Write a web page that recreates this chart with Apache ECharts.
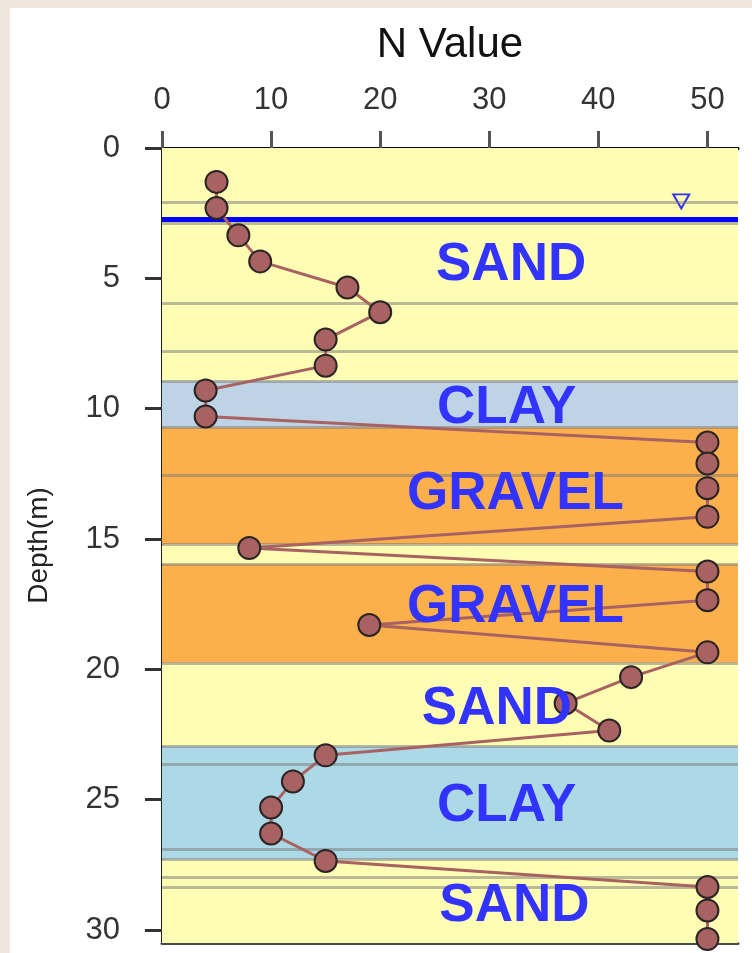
<!DOCTYPE html>
<html>
<head>
<meta charset="utf-8">
<script src="https://cdn.jsdelivr.net/npm/echarts@6/dist/echarts.min.js"></script>
<style>
  html, body { margin: 0; padding: 0; background: #efe7dc; }
  #chart { position: absolute; left: 10px; top: 8px; width: 742px; height: 945px; background: #ffffff; }
</style>
</head>
<body>
<div id="chart"></div>
<script>
// Standard penetration test: N value against depth
const depthM = [1.3, 2.3, 3.35, 4.35, 5.35, 6.3, 7.35, 8.35, 9.3, 10.3,
                11.3, 12.1, 13.05, 14.15, 15.35, 16.25, 17.35, 18.3, 19.35,
                20.3, 21.3, 22.35, 23.3, 24.3, 25.3, 26.3, 27.35, 28.35, 29.25, 30.35];
const nValue = [5, 5, 7, 9, 17, 20, 15, 15, 4, 4,
                50, 50, 50, 50, 8, 50, 50, 19, 50,
                43, 37, 41, 15, 12, 10, 10, 15, 50, 50, 50];

const xTicks = [0, 10, 20, 30, 40, 50];
const yTicks = [0, 5, 10, 15, 20, 25, 30];

// Soil layers (depth in m)
const layerTop    = [0, 8.95, 10.72, 15.2, 15.97, 19.75, 22.96, 27.3];
const layerBottom = [8.95, 10.72, 15.2, 15.97, 19.75, 22.96, 27.3, 30.5];
const layerColor  = ['#fdfdb4', '#bed3e6', '#fbb04c', '#fdfdb4', '#fbb04c', '#fdfdb4', '#add8e6', '#fdfdb4'];

// Sample / sub-layer boundaries
const sampleBreaks = [2.1, 2.88, 5.95, 7.8, 8.95, 10.72, 12.55, 15.2, 15.97,
                      19.75, 22.96, 23.64, 26.9, 27.3, 27.97, 28.36];

// Soil names written inside the layers
const soilNames     = ['SAND', 'CLAY', 'GRAVEL', 'GRAVEL', 'SAND', 'CLAY', 'SAND'];
const soilNameX     = [32.0, 31.6, 32.4, 32.4, 30.7, 31.6, 32.3];
const soilNameDepth = [4.5, 9.98, 13.28, 17.62, 21.52, 25.24, 29.08];

// Groundwater level
const waterLevel = 2.72;
const waterMarkX = 47.6;
const waterMarkDepth = 2.05;

const FONT = 'Liberation Sans, Arial, sans-serif';
const X_MAX = 52.8;
const Y_MAX = 30.5;

const chart = echarts.init(document.getElementById('chart'), null, { renderer: 'canvas' });

chart.setOption({
  animation: false,
  grid: { left: 152, top: 140, right: 14, bottom: 10, containLabel: false },
  xAxis: [
    {
      type: 'value', position: 'top', min: 0, max: X_MAX, interval: 10,
      name: 'N Value', nameLocation: 'middle', nameGap: 103,
      nameTextStyle: { fontSize: 42, color: '#111', fontFamily: FONT, verticalAlign: 'middle' },
      axisLine: { show: true, onZero: false, lineStyle: { color: '#000', width: 3 } },
      axisTick: { show: true, length: 17, customValues: xTicks, lineStyle: { color: '#555', width: 3 } },
      axisLabel: { customValues: xTicks, margin: 32, fontSize: 31, color: '#333', fontFamily: FONT },
      splitLine: { show: false }
    },
    {
      type: 'value', position: 'bottom', min: 0, max: X_MAX,
      axisLine: { show: true, onZero: false, lineStyle: { color: '#4a4a44', width: 3 } },
      axisTick: { show: false }, axisLabel: { show: false }, splitLine: { show: false }
    }
  ],
  yAxis: {
    type: 'value', inverse: true, min: 0, max: Y_MAX, interval: 5,
    name: 'Depth(m)', nameLocation: 'middle', nameGap: 123, nameRotate: 90,
    nameTextStyle: { fontSize: 28, color: '#222', fontFamily: FONT, verticalAlign: 'middle' },
    axisLine: { show: true, onZero: false, lineStyle: { color: '#222', width: 3 } },
    axisTick: { show: true, length: 17, customValues: yTicks, lineStyle: { color: '#333', width: 3 } },
    axisLabel: { customValues: yTicks, margin: 42, fontSize: 31, color: '#333', fontFamily: FONT },
    splitLine: { show: false }
  },
  series: [
    {
      name: 'layers', type: 'line', data: [], silent: true, z: 1,
      markArea: {
        silent: true,
        data: layerTop.map((t, i) => [
          { yAxis: t, itemStyle: { color: layerColor[i] } },
          { yAxis: layerBottom[i] }
        ])
      }
    },
    {
      name: 'breaks', type: 'line', data: [], silent: true, z: 2,
      markLine: {
        silent: true, symbol: ['none', 'none'], label: { show: false },
        lineStyle: { color: 'rgba(120,120,120,0.5)', width: 3, type: 'solid' },
        data: sampleBreaks.map(d => ({ yAxis: d }))
      }
    },
    {
      name: 'water', type: 'scatter', silent: true, z: 3,
      data: [[waterMarkX, waterMarkDepth]],
      symbol: 'triangle', symbolRotate: 180, symbolSize: [16, 14],
      itemStyle: { color: 'rgba(0,0,0,0)', borderColor: '#0000ff', borderWidth: 2 },
      markLine: {
        silent: true, symbol: ['none', 'none'], label: { show: false },
        lineStyle: { color: '#0000ff', width: 5, type: 'solid' },
        data: [{ yAxis: waterLevel }]
      }
    },
    {
      name: 'N Value', type: 'line', silent: true, z: 5, clip: false,
      data: nValue.map((n, i) => [n, depthM[i]]),
      symbol: 'circle', symbolSize: 22,
      itemStyle: { color: '#a86262', borderColor: '#2a2424', borderWidth: 2 },
      lineStyle: { color: '#a86262', width: 3 }
    },
    {
      name: 'soil', type: 'scatter', silent: true, z: 6,
      data: soilNames.map((s, i) => ({ name: s, value: [soilNameX[i], soilNameDepth[i]] })),
      symbolSize: 1, itemStyle: { color: 'rgba(0,0,0,0)' },
      label: {
        show: true, position: 'inside', formatter: '{b}',
        color: '#3333ff', fontSize: 53, fontWeight: 'bold', fontFamily: FONT,
        textBorderWidth: 0, textBorderColor: 'transparent', textShadowBlur: 0, opacity: 1
      }
    }
  ]
});
</script>
</body>
</html>
